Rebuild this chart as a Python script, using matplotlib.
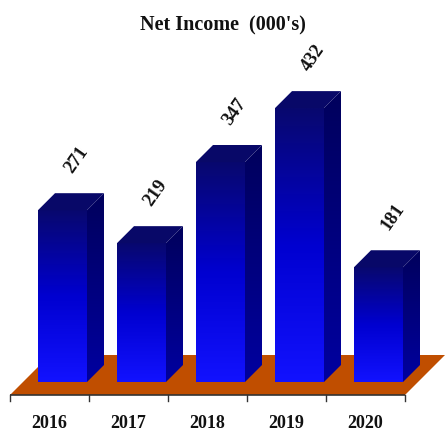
import matplotlib
matplotlib.use("Agg")
import matplotlib.pyplot as plt
import numpy as np
from matplotlib.colors import LinearSegmentedColormap
from matplotlib.patches import Polygon

# Net income per year, in thousands
years = ["2016", "2017", "2018", "2019", "2020"]
net_income = [271, 219, 347, 432, 181]

plt.rcParams["font.family"] = ["Liberation Serif", "DejaVu Serif"]

W, H = 445, 437
fig = plt.figure(figsize=(W / 100, H / 100), dpi=100)
ax = fig.add_axes([0, 0, 1, 1])

# screen scale: pixels per category and per unit of value
px_x = 79.0
px_y = 0.634
x0_px = 49.5   # pixel x of the first category centre
y0_px = 42.0   # pixel height of value 0 on the floor's front edge

ax.axis("off")


def depth(d):
    # oblique offset of d pixels into the scene (45 degrees up-right)
    return d / px_x, d / px_y


# floor
fdx, fdy = depth(40)
n = len(years)
floor = Polygon([(-0.5, 0), (n - 0.5, 0), (n - 0.5 + fdx, fdy), (-0.5 + fdx, fdy)],
                closed=True, facecolor="#c04e00", edgecolor="none", zorder=1)
ax.add_patch(floor)
ax.plot([-0.5, n - 0.5], [0, 0], color="#333333", lw=1.2, zorder=2,
        solid_capstyle="butt")
tick_len = 6 / px_y
for b in np.arange(-0.5, n, 1.0):
    ax.plot([b, b], [0, -tick_len], color="#333333", lw=1.0, zorder=2)

front_cmap = LinearSegmentedColormap.from_list("front", ["#1212ff", "#0000d0", "#08086e"])
side_cmap = LinearSegmentedColormap.from_list("side", ["#0000a0", "#00005c"])
top_color = "#080868"

half_w = 24.5 / px_x
bx, by = depth(13)      # front of the bars
sdx, sdy = depth(17)    # bar depth
grad = np.linspace(0, 1, 256).reshape(-1, 1)

for i, v in enumerate(net_income):
    xl = i - half_w + bx
    xr = i + half_w + bx
    yb = by
    yt = by + v

    # front face with vertical gradient
    ax.imshow(grad, cmap=front_cmap, origin="lower", aspect="auto",
              extent=[xl, xr, yb, yt], interpolation="bilinear", zorder=3)

    # side face
    side = Polygon([(xr, yb), (xr + sdx, yb + sdy), (xr + sdx, yt + sdy), (xr, yt)],
                   closed=True, facecolor="none", edgecolor="none")
    ax.add_patch(side)
    im = ax.imshow(grad, cmap=side_cmap, origin="lower", aspect="auto",
                   extent=[xr, xr + sdx, yb, yt + sdy], interpolation="bilinear",
                   zorder=3)
    im.set_clip_path(side)

    # top face
    ax.add_patch(Polygon([(xl, yt), (xr, yt), (xr + sdx, yt + sdy), (xl + sdx, yt + sdy)],
                         closed=True, facecolor=top_color, edgecolor="none", zorder=3))

    # value label
    ax.text(i + bx + 14 / px_x, yt + 50 / px_y, str(v), rotation=55,
            ha="center", va="center", fontsize=13.5, fontweight="bold",
            color="#111111", zorder=4)

    # year label
    ax.text(i, -28 / px_y, years[i], ha="center", va="center",
            fontsize=13, fontweight="bold", color="#111111")

ax.set_xlim(-x0_px / px_x, (W - x0_px) / px_x)
ax.set_ylim(-y0_px / px_y, (H - y0_px) / px_y)

fig.text(0.5, 1 - 25 / H, "Net Income  (000's)", ha="center", va="center",
         fontsize=14.5, fontweight="bold", color="#111111")

fig.savefig("out.png", dpi=100, facecolor="white")
